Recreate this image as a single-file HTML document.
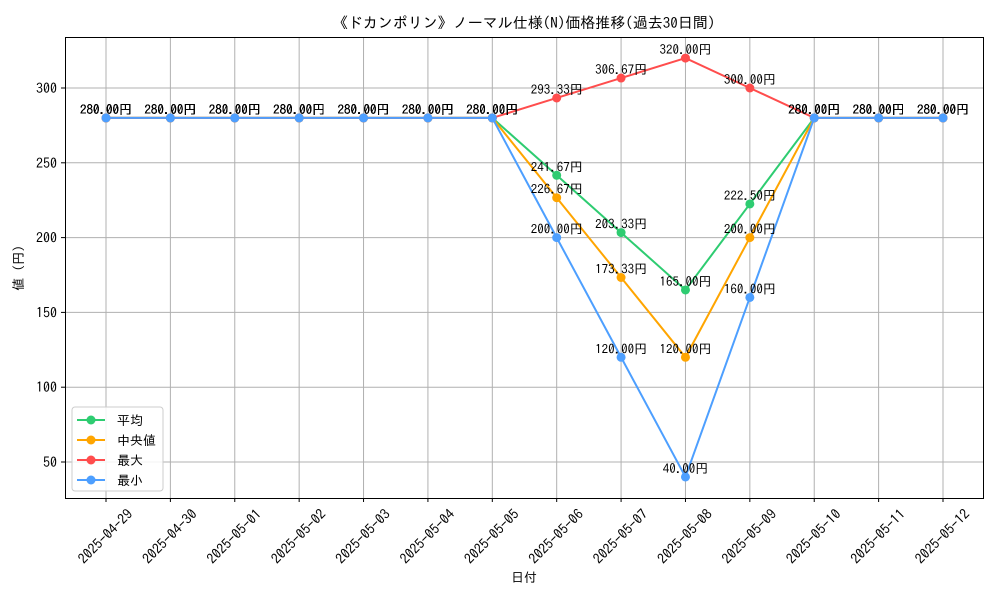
<!DOCTYPE html>
<html><head><meta charset="utf-8"><style>
body{margin:0;background:#fff}
svg{display:block;font-family:"IPAGothic","Noto Sans CJK JP","Liberation Sans",sans-serif}
</style></head><body>
<svg id="c" width="1000" height="600">
<rect width="1000" height="600" fill="#fff"/>
<text x="524" y="28" text-anchor="middle" font-size="15">《ドカンポリン》ノーマル仕様(N)価格推移(過去30日間)</text>
<g id="grid"></g><g id="axes"></g><g id="series"></g><g id="labels"></g>
<rect x="65.5" y="37.5" width="918" height="461" fill="none" stroke="#000" stroke-width="1"/>
<text x="524" y="582" text-anchor="middle" font-size="13">日付</text>
<text transform="translate(23,268) rotate(-90)" text-anchor="middle" font-size="13">値 (円)</text>
<g>
<rect x="72" y="407" width="91" height="84" rx="3" fill="#fff" fill-opacity="0.85" stroke="#ccc"/>
<g id="legend"></g>
</g>
</svg>
<script>
const categories=["2025-04-29","2025-04-30","2025-05-01","2025-05-02","2025-05-03","2025-05-04","2025-05-05","2025-05-06","2025-05-07","2025-05-08","2025-05-09","2025-05-10","2025-05-11","2025-05-12"];
const avgValues=[280,280,280,280,280,280,280,241.67,203.33,165,222.5,280,280,280];
const medianValues=[280,280,280,280,280,280,280,226.67,173.33,120,200,280,280,280];
const maxValues=[280,280,280,280,280,280,280,293.33,306.67,320,300,280,280,280];
const minValues=[280,280,280,280,280,280,280,200,120,40,160,280,280,280];
const yTicks=[50,100,150,200,250,300];
const seriesNames=["平均","中央値","最大","最小"];
const NS="http://www.w3.org/2000/svg";
const X=i=>106+i*(943-106)/(categories.length-1);
const Y=v=>88+(300-v)*1.496;
function mk(t,a,p){const e=document.createElementNS(NS,t);for(const k in a)e.setAttribute(k,a[k]);p.appendChild(e);return e;}
const grid=document.getElementById('grid'),axes=document.getElementById('axes');
categories.forEach((c,i)=>{
 const x=X(i);
 const g=mk('line',{x1:x,x2:x,y1:37,y2:498,stroke:'#b0b0b0','stroke-width':1},grid);
 
 
 mk('line',{x1:x,x2:x,y1:498,y2:502,stroke:'#000'},axes);
 const t=mk('text',{x:x,y:541,'font-size':14,'text-anchor':'middle',transform:`rotate(-45 ${x} 537)`},axes);
 t.textContent=c;
 
 
});
yTicks.forEach(v=>{
 const y=Y(v);
 const g=mk('line',{x1:65,x2:983,y1:y,y2:y,stroke:'#b0b0b0','stroke-width':1},grid);
 
 
 mk('line',{x1:61,x2:65,y1:y,y2:y,stroke:'#000'},axes);
 const t=mk('text',{x:57,y:y+5,'font-size':14,'text-anchor':'end'},axes);
 t.textContent=v;
 
 
});
const all=[[avgValues,'#2ecc71','avg'],[medianValues,'#ffa500','median'],[maxValues,'#ff4d4d','max'],[minValues,'#4d9fff','min']];
const sg=document.getElementById('series'),lg=document.getElementById('labels'),leg=document.getElementById('legend');
all.forEach(([vals,col,nm],k)=>{
 const p=mk('polyline',{points:vals.map((v,i)=>X(i)+','+Y(v)).join(' '),fill:'none',stroke:col,'stroke-width':2},sg);
 
 
 vals.forEach((v,i)=>{
  const c=mk('circle',{cx:X(i),cy:Y(v),r:4.5,fill:col},sg);
  
  
  const t=mk('text',{x:X(i),y:Y(v)-4,'font-size':13,'text-anchor':'middle'},lg);
  t.textContent=v.toFixed(2)+'円';
  
  
 });
 const ly=420+k*20;
 mk('line',{x1:77,x2:105,y1:ly,y2:ly,stroke:col,'stroke-width':2},leg);
 mk('circle',{cx:91,cy:ly,r:4.5,fill:col},leg);
 const t=mk('text',{x:117,y:ly+5,'font-size':13},leg);
 t.textContent=seriesNames[k];
 
 
});
</script>
</body></html>
